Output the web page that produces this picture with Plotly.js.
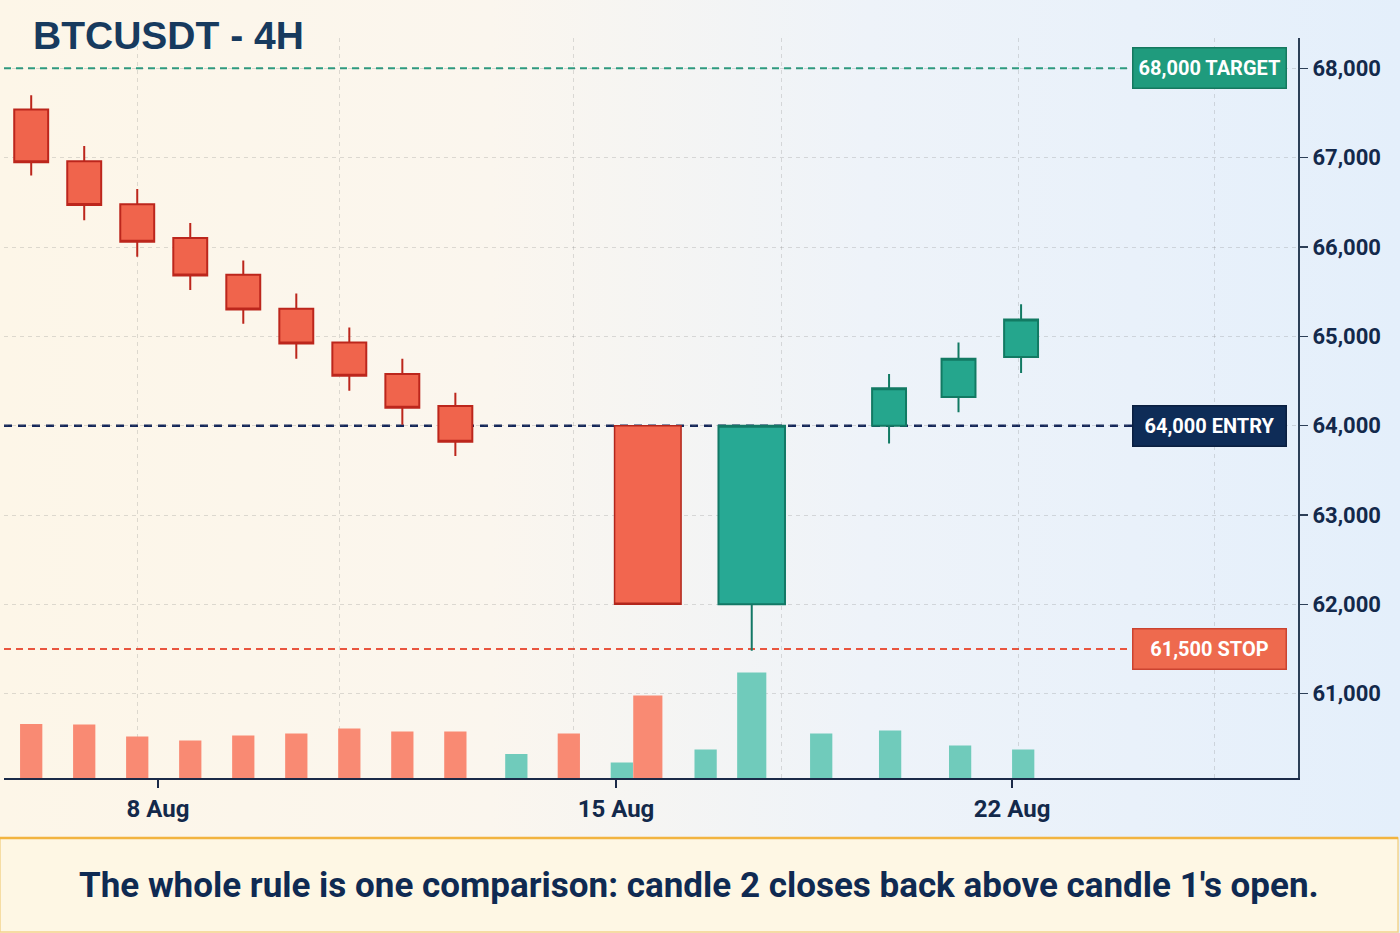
<!DOCTYPE html>
<html>
<head>
<meta charset="utf-8">
<script src="https://cdn.plot.ly/plotly-3.0.1.min.js"></script>
<style>
  html, body { margin: 0; padding: 0; }
  body {
    width: 1400px; height: 933px; overflow: hidden;
    background: linear-gradient(90deg, #fdf6e8 0%, #fbf6ee 35%, #eef3f9 62%, #e4effb 100%);
  }
  #chart { width: 1400px; height: 933px; }
</style>
</head>
<body>
<div id="chart"></div>
<script>
// candles, x = bar slot
var candleSlot  = [0, 1, 2, 3, 4, 5, 6, 7, 8, 16.18, 17.49, 18.67];
var candleOpen  = [67540, 66960, 66480, 66100, 65690, 65310, 64930, 64580, 64220, 64000, 64320, 64770];
var candleHigh  = [67700, 67130, 66650, 66270, 65850, 65480, 65100, 64750, 64370, 64580, 64930, 65360];
var candleLow   = [66800, 66300, 65890, 65520, 65140, 64750, 64390, 64010, 63660, 63800, 64150, 64590];
var candleClose = [66950, 66470, 66060, 65680, 65300, 64920, 64560, 64200, 63820, 64420, 64750, 65190];

// the two signal candles
var pairSlot  = [11.63, 13.59];
var pairOpen  = [64000, 62000];
var pairHigh  = [64000, 64000];
var pairLow   = [62000, 61480];
var pairClose = [62000, 64000];

// volume
var volSlot = [0, 1, 2, 3, 4, 5, 6, 7, 8, 9.15, 10.14, 11.14, 11.63, 12.72, 13.59, 14.90, 16.20, 17.52, 18.71];
var volume  = [1080, 1070, 830, 750, 850, 890, 990, 930, 930, 480, 890, 310, 1650, 570, 2110, 890, 950, 650, 570];
var volDir  = ['down', 'down', 'down', 'down', 'down', 'down', 'down', 'down', 'down',
               'up', 'down', 'up', 'down', 'up', 'up', 'up', 'up', 'up', 'up'];

var levelPrice = [68000, 64000, 61500];
var levelName  = ['TARGET', 'ENTRY', 'STOP'];

var dateSlot  = [2.39, 11.03, 18.50];
var dateLabel = ['8 Aug', '15 Aug', '22 Aug'];
var priceTicks = [61000, 62000, 63000, 64000, 65000, 66000, 67000, 68000];

var cond = 'Roboto, "Liberation Sans", sans-serif';
var navy = '#13294b';
var levelColor  = ['#1f9b7d', '#0e2c57', '#ee6a4e'];
var levelBorder = ['#15785f', '#0a1f40', '#cb4330'];
var levelLine   = ['#2a9d80', '#14275a', '#e9553f'];

var xRange = [-0.513, 23.893];

var small = {
  type: 'candlestick',
  x: candleSlot, open: candleOpen, high: candleHigh, low: candleLow, close: candleClose,
  xaxis: 'x', yaxis: 'y',
  increasing: {line: {color: '#127a63', width: 2}, fillcolor: '#25a68d'},
  decreasing: {line: {color: '#bc261c', width: 2}, fillcolor: '#f0644c'},
  hoverinfo: 'skip'
};

var pair = {
  type: 'candlestick',
  x: pairSlot, open: pairOpen, high: pairHigh, low: pairLow, close: pairClose,
  xaxis: 'x2', yaxis: 'y',
  increasing: {line: {color: '#137866', width: 2}, fillcolor: '#27a994'},
  decreasing: {line: {color: '#b2261c', width: 1.5}, fillcolor: '#f2664f'},
  hoverinfo: 'skip'
};

var vol = {
  type: 'bar',
  x: volSlot, y: volume,
  xaxis: 'x', yaxis: 'y2',
  width: volSlot.map(function (s) { return pairSlot.indexOf(s) >= 0 ? 0.55 : 0.42; }),
  marker: {
    color: volDir.map(function (d) { return d === 'up' ? '#70cbbb' : '#f98a73'; }),
    line: {width: 0}
  },
  hoverinfo: 'skip'
};

var shapes = [];
var annotations = [];
levelPrice.forEach(function (p, i) {
  shapes.push({
    type: 'line', layer: 'below', xref: 'paper', yref: 'y',
    x0: 0, x1: 0.8717, y0: p, y1: p,
    line: {color: levelLine[i], width: i === 1 ? 2.5 : 2, dash: i === 1 ? '8px,6px' : '7px,5px'}
  });
  annotations.push({
    xref: 'paper', yref: 'y', x: 0.9316, y: p,
    text: p.toLocaleString('en-US') + ' ' + levelName[i],
    showarrow: false, xanchor: 'center', yanchor: 'middle',
    width: 146, height: 33, borderpad: 3, borderwidth: 1.5,
    bgcolor: levelColor[i], bordercolor: levelBorder[i],
    font: {family: cond, size: 20, color: '#ffffff', weight: 'bold'}
  });
});

// caption strip
shapes.push({
  type: 'rect', xref: 'paper', yref: 'paper', layer: 'above',
  x0: -0.0031, x1: 1.0773, y0: -0.0811, y1: -0.2081,
  fillcolor: '#fef7e4', line: {color: '#f3d48d', width: 1.5}
});
shapes.push({
  type: 'line', xref: 'paper', yref: 'paper', layer: 'above',
  x0: -0.0031, x1: 1.0773, y0: -0.0811, y1: -0.0811,
  line: {color: '#f2b440', width: 2.5}
});
annotations.push({
  xref: 'paper', yref: 'paper', x: 0.537, y: -0.1446,
  xanchor: 'center', yanchor: 'middle', showarrow: false,
  text: "The whole rule is one comparison: candle 2 closes back above candle 1's open.",
  font: {family: cond, size: 35, color: '#0f2a52', weight: 'bold'}
});

var layout = {
  width: 1400, height: 933,
  margin: {l: 4, r: 102, t: 38, b: 155},
  paper_bgcolor: 'rgba(0,0,0,0)',
  plot_bgcolor: 'rgba(0,0,0,0)',
  showlegend: false,
  hovermode: false,
  boxgap: 0.36, boxgroupgap: 0,
  title: {
    text: 'BTCUSDT - 4H',
    x: 0.0236, xref: 'container', xanchor: 'left',
    y: 0.962, yref: 'container', yanchor: 'middle',
    font: {family: '"Liberation Sans", Arial, sans-serif', size: 39, color: '#173a5e', weight: 'bold'}
  },
  xaxis: {
    range: xRange, fixedrange: true,
    rangeslider: {visible: false},
    tickmode: 'array', tickvals: [2.0, 5.81, 10.22, 14.16, 18.63, 22.31],
    showticklabels: false, ticks: '',
    showgrid: true, gridcolor: 'rgba(110,110,110,0.22)', gridwidth: 1, griddash: '4px,4px',
    showline: true, linecolor: '#1b2a48', linewidth: 2,
    zeroline: false
  },
  xaxis2: {
    overlaying: 'x', anchor: 'y', side: 'bottom',
    range: xRange, fixedrange: true,
    rangeslider: {visible: false},
    tickmode: 'array', tickvals: dateSlot, ticktext: dateLabel,
    ticks: 'outside', ticklen: 8, tickwidth: 1.5, tickcolor: '#1b2a48',
    tickfont: {family: cond, size: 24, color: navy, weight: 'bold'},
    showgrid: false, zeroline: false,
    showline: true, linecolor: '#1b2a48', linewidth: 2
  },
  yaxis: {
    side: 'right', range: [60056, 68340], fixedrange: true,
    tickmode: 'array', tickvals: priceTicks, tickformat: ',',
    ticks: 'outside', ticklen: 8, tickwidth: 1.5, tickcolor: '#2c3f57',
    tickfont: {family: cond, size: 22, color: navy, weight: 'bold'},
    showgrid: true, gridcolor: 'rgba(110,110,110,0.22)', gridwidth: 1, griddash: '4px,4px',
    showline: true, linecolor: '#2c3f57', linewidth: 2,
    zeroline: false
  },
  yaxis2: {
    overlaying: 'y', anchor: 'x', range: [0, 14800],
    visible: false, fixedrange: true
  },
  shapes: shapes,
  annotations: annotations
};

Plotly.newPlot('chart', [small, pair, vol], layout, {staticPlot: true, displayModeBar: false});
</script>
</body>
</html>
